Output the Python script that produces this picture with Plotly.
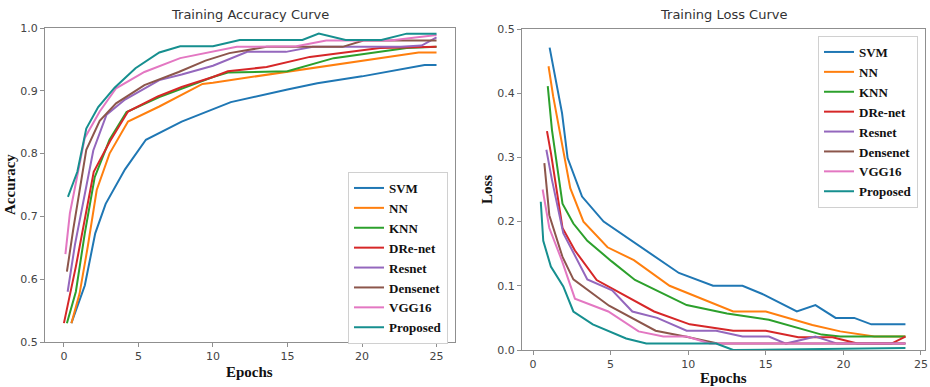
import plotly.graph_objects as go

# ---------------- data ----------------
names = ["SVM", "NN", "KNN", "DRe-net", "Resnet", "Densenet", "VGG16", "Proposed"]
colors = ["#1f77b4", "#ff7f0e", "#2ca02c", "#d62728", "#9467bd", "#8c564b", "#e377c2", "#168f8f"]

acc_svm_x = [0.5, 1.4, 2.1, 2.8, 4.1, 5.5, 7.9, 9.5, 11.2, 15, 17, 20, 24.2, 25]
acc_svm_y = [0.53, 0.59, 0.673, 0.72, 0.775, 0.822, 0.851, 0.866, 0.882, 0.902, 0.912, 0.923, 0.941, 0.941]
acc_nn_x = [0.5, 1.05, 1.6, 2.2, 3.06, 4.3, 6.4, 9.3, 10, 15.1, 23.8, 25]
acc_nn_y = [0.53, 0.577, 0.652, 0.742, 0.80, 0.851, 0.875, 0.911, 0.913, 0.931, 0.961, 0.961]
acc_knn_x = [0.2, 0.8, 1.4, 2.06, 3.06, 4.2, 6.4, 10, 11, 15, 18.1, 20, 23, 25]
acc_knn_y = [0.53, 0.58, 0.673, 0.762, 0.822, 0.866, 0.89, 0.922, 0.929, 0.931, 0.952, 0.958, 0.968, 0.97]
acc_dre_x = [0, 0.8, 2.0, 3.1, 4.3, 6.3, 7.9, 10, 11, 13.6, 16.5, 21.2, 25]
acc_dre_y = [0.53, 0.62, 0.771, 0.82, 0.867, 0.891, 0.906, 0.922, 0.931, 0.938, 0.954, 0.968, 0.97]
acc_res_x = [0.25, 0.74, 1.97, 2.86, 4.1, 6.4, 7.9, 10, 12.3, 14.9, 16.7, 22.6, 24, 25]
acc_res_y = [0.58, 0.655, 0.805, 0.862, 0.886, 0.917, 0.926, 0.94, 0.962, 0.962, 0.97, 0.97, 0.972, 0.985]
acc_dense_x = [0.2, 0.63, 1.5, 2.4, 3.5, 5.4, 7.7, 9.5, 11.1, 13.6, 18.7, 20.1, 25]
acc_dense_y = [0.612, 0.68, 0.806, 0.852, 0.88, 0.909, 0.93, 0.948, 0.96, 0.97, 0.97, 0.98, 0.98]
acc_vgg_x = [0.1, 0.4, 1.4, 2.4, 3.5, 5.4, 7.8, 9.5, 11.6, 15.6, 17.6, 21.9, 25]
acc_vgg_y = [0.64, 0.705, 0.825, 0.867, 0.904, 0.93, 0.952, 0.96, 0.97, 0.971, 0.98, 0.98, 0.989]
acc_prop_x = [0.27, 0.9, 1.5, 2.3, 3.4, 4.8, 6.4, 7.8, 10, 11.8, 16, 17.1, 18.9, 21.3, 23, 25]
acc_prop_y = [0.731, 0.771, 0.84, 0.874, 0.905, 0.936, 0.961, 0.971, 0.971, 0.981, 0.981, 0.991, 0.981, 0.981, 0.991, 0.991]

loss_svm_x = [1.07, 1.87, 2.23, 3.16, 4.55, 7.1, 9.4, 11.6, 13.5, 14.9, 17.0, 18.2, 19.5, 20.7, 21.8, 24]
loss_svm_y = [0.471, 0.369, 0.299, 0.239, 0.2, 0.158, 0.12, 0.10, 0.10, 0.086, 0.06, 0.07, 0.05, 0.05, 0.04, 0.04]
loss_nn_x = [1.0, 1.3, 2.4, 3.25, 4.8, 6.5, 8.8, 11, 12.9, 15, 18, 19.8, 22, 24]
loss_nn_y = [0.442, 0.395, 0.252, 0.2, 0.16, 0.14, 0.10, 0.078, 0.06, 0.06, 0.039, 0.029, 0.021, 0.021]
loss_knn_x = [0.95, 1.22, 1.9, 2.6, 3.5, 5.07, 6.57, 9.9, 12.5, 15.2, 18.6, 19.8, 24]
loss_knn_y = [0.411, 0.343, 0.228, 0.197, 0.17, 0.138, 0.109, 0.07, 0.057, 0.047, 0.024, 0.021, 0.021]
loss_dre_x = [0.9, 1.16, 1.9, 2.7, 4.1, 5.3, 7.8, 10.1, 12.9, 15, 17.1, 19.3, 20.9, 23.1, 24]
loss_dre_y = [0.341, 0.306, 0.19, 0.155, 0.109, 0.093, 0.06, 0.04, 0.03, 0.03, 0.02, 0.02, 0.01, 0.01, 0.021]
loss_res_x = [0.86, 1.22, 1.95, 3.5, 5.1, 6.4, 8.0, 9.9, 11.8, 13.5, 15.2, 16.3, 18.2, 19.6, 24]
loss_res_y = [0.312, 0.265, 0.182, 0.11, 0.093, 0.06, 0.05, 0.03, 0.03, 0.021, 0.021, 0.01, 0.021, 0.01, 0.01]
loss_dense_x = [0.73, 1.05, 1.9, 2.6, 4.9, 7.9, 9.8, 11.9, 24]
loss_dense_y = [0.291, 0.21, 0.145, 0.11, 0.069, 0.03, 0.021, 0.01, 0.01]
loss_vgg_x = [0.62, 1.05, 1.85, 2.7, 4.85, 6.8, 8.4, 9.9, 11.4, 24]
loss_vgg_y = [0.25, 0.19, 0.14, 0.08, 0.06, 0.029, 0.021, 0.021, 0.01, 0.01]
loss_prop_x = [0.5, 0.66, 1.15, 1.95, 2.6, 3.85, 6.0, 7.3, 11.8, 12.9, 24]
loss_prop_y = [0.231, 0.17, 0.13, 0.099, 0.06, 0.04, 0.018, 0.01, 0.01, 0.0, 0.003]

acc_series = [(acc_svm_x, acc_svm_y), (acc_nn_x, acc_nn_y), (acc_knn_x, acc_knn_y), (acc_dre_x, acc_dre_y),
              (acc_res_x, acc_res_y), (acc_dense_x, acc_dense_y), (acc_vgg_x, acc_vgg_y), (acc_prop_x, acc_prop_y)]
loss_series = [(loss_svm_x, loss_svm_y), (loss_nn_x, loss_nn_y), (loss_knn_x, loss_knn_y), (loss_dre_x, loss_dre_y),
               (loss_res_x, loss_res_y), (loss_dense_x, loss_dense_y), (loss_vgg_x, loss_vgg_y), (loss_prop_x, loss_prop_y)]

x_ticks = [0, 5, 10, 15, 20, 25]
acc_ticks = [0.5, 0.6, 0.7, 0.8, 0.9, 1.0]
loss_ticks = [0.0, 0.1, 0.2, 0.3, 0.4, 0.5]

W, H = 930, 387

# ---------------- figure ----------------
fig = go.Figure()
for name, col, (xs, ys) in zip(names, colors, acc_series):
    fig.add_trace(go.Scatter(x=xs, y=ys, mode="lines", name=name, line=dict(color=col, width=2),
                             xaxis="x", yaxis="y", legend="legend"))
for name, col, (xs, ys) in zip(names, colors, loss_series):
    fig.add_trace(go.Scatter(x=xs, y=ys, mode="lines", name=name, line=dict(color=col, width=2),
                             xaxis="x2", yaxis="y2", legend="legend2"))

tickfont = dict(family="DejaVu Sans", size=11, color="#444444")
axis_common = dict(showline=True, mirror=True, linecolor="#8f8f8f", linewidth=1.2, ticks="outside",
                   ticklen=4, tickcolor="#8f8f8f", showgrid=False, zeroline=False, tickfont=tickfont)
label_font = dict(family="Liberation Serif", size=15, color="#111111", weight="bold")
legend_font = dict(family="Liberation Serif", size=13, color="#111111", weight="bold")


def px_ann(text, x, y, font, angle=0):
    return dict(text=text, x=x / W, y=1 - y / H, xref="paper", yref="paper", showarrow=False,
                xanchor="center", yanchor="middle", font=font, textangle=angle)


fig.update_layout(
    width=W, height=H,
    margin=dict(l=0, r=0, t=0, b=0, autoexpand=False),
    paper_bgcolor="white", plot_bgcolor="white",
    hovermode=False,
    xaxis=dict(domain=[45 / W, 455 / W], range=[-1.27, 26.24], tickvals=x_ticks, anchor="y", **axis_common),
    yaxis=dict(domain=[1 - 342 / H, 1 - 28 / H], range=[0.5, 1.0], tickvals=acc_ticks, tickformat=".1f",
               anchor="x", **axis_common),
    xaxis2=dict(domain=[522 / W, 925 / W], range=[-0.71, 25.26], tickvals=x_ticks, anchor="y2", **axis_common),
    yaxis2=dict(domain=[1 - 350 / H, 1 - 29 / H], range=[0.0, 0.5], tickvals=loss_ticks, tickformat=".1f",
                anchor="x2", **axis_common),
    legend=dict(x=448 / W, y=1 - 172 / H, xanchor="right", yanchor="top", bgcolor="white",
                bordercolor="#d0d0d0", borderwidth=1, font=legend_font, tracegroupgap=0, itemwidth=30),
    legend2=dict(x=918 / W, y=1 - 36 / H, xanchor="right", yanchor="top", bgcolor="white",
                 bordercolor="#d0d0d0", borderwidth=1, font=legend_font, tracegroupgap=0, itemwidth=30),
    annotations=[
        px_ann("Training Accuracy Curve", 250, 15, dict(family="DejaVu Sans", size=13, color="#333333")),
        px_ann("Training Loss Curve", 723, 15, dict(family="DejaVu Sans", size=13, color="#333333")),
        px_ann("Epochs", 250, 372, label_font),
        px_ann("Accuracy", 10, 185, label_font, -90),
        px_ann("Epochs", 723, 378, label_font),
        px_ann("Loss", 487, 190, label_font, -90),
    ],
)

fig.write_html("out.html", config={"displayModeBar": False},
               post_script="document.body.style.margin='0px';document.body.style.overflow='hidden';")
